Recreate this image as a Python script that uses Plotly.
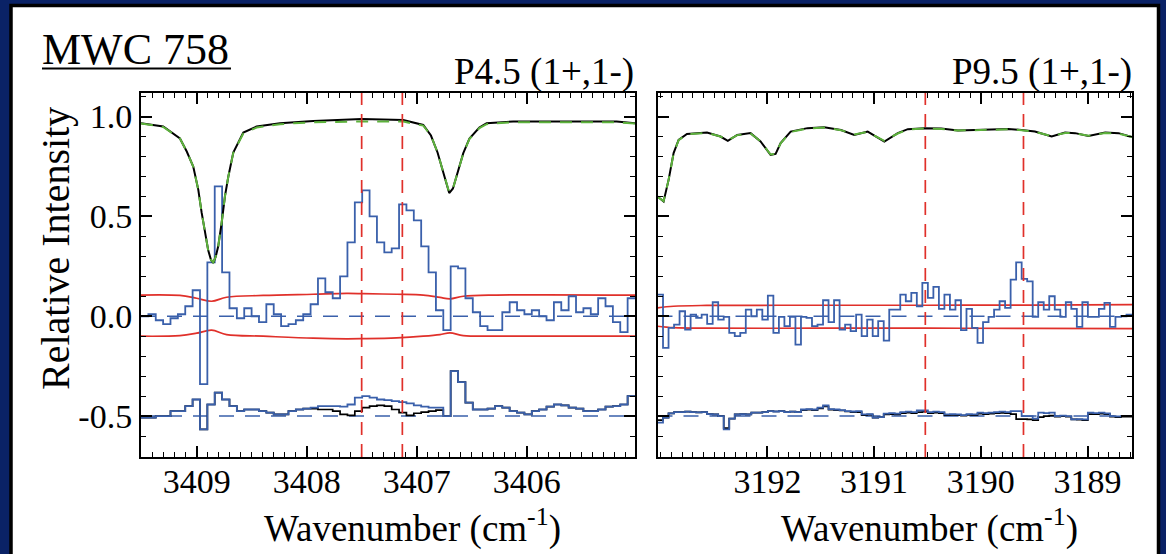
import numpy as np
import plotly.graph_objects as go

W, H = 1166, 554
FONT = "'Liberation Serif', 'Times New Roman', 'DejaVu Serif', serif"

# ---------------- Left panel: P4.5 (1+,1-) ----------------
left_wn = [3409.506, 3409.304, 3409.152, 3409.09, 3409.031, 3408.985, 3408.955, 3408.925,
           3408.895, 3408.87, 3408.849, 3408.826, 3408.804, 3408.773, 3408.743, 3408.712,
           3408.667, 3408.576, 3408.455, 3408.243, 3407.94, 3407.5, 3407.122, 3406.94,
           3406.87, 3406.81, 3406.75, 3406.704, 3406.67, 3406.62, 3406.576, 3406.52,
           3406.43, 3406.364, 3406.122, 3405.667, 3405.182, 3405.015]
left_obs = [0.967, 0.950, 0.890, 0.825, 0.750, 0.633, 0.520, 0.417,
            0.330, 0.283, 0.267, 0.300, 0.350, 0.467, 0.600, 0.700,
            0.820, 0.920, 0.950, 0.967, 0.978, 0.988, 0.983, 0.958,
            0.905, 0.820, 0.700, 0.617, 0.640, 0.730, 0.817, 0.890,
            0.945, 0.967, 0.975, 0.975, 0.975, 0.967]
left_model = [0.965, 0.948, 0.890, 0.825, 0.750, 0.633, 0.520, 0.417,
              0.330, 0.283, 0.270, 0.300, 0.350, 0.467, 0.600, 0.700,
              0.818, 0.915, 0.945, 0.962, 0.972, 0.975, 0.975, 0.955,
              0.905, 0.820, 0.700, 0.620, 0.640, 0.730, 0.815, 0.888,
              0.942, 0.962, 0.972, 0.972, 0.972, 0.965]

left_noise_wn = [3409.506, 3409.152, 3409.0, 3408.864, 3408.728, 3408.395, 3407.94, 3407.637,
                 3407.485, 3407.182, 3406.94, 3406.788, 3406.697, 3406.576, 3406.273, 3405.015]
left_noise_hi = [0.106, 0.104, 0.090, 0.075, 0.095, 0.104, 0.110, 0.114,
                 0.113, 0.110, 0.106, 0.094, 0.087, 0.100, 0.106, 0.106]
left_noise_lo = [-0.100, -0.097, -0.085, -0.070, -0.092, -0.100, -0.110, -0.113,
                 -0.112, -0.108, -0.100, -0.092, -0.083, -0.097, -0.100, -0.100]

left_bin_start = 3409.506
left_bin_step = 0.06703
left_resid = [0.00, 0.01, -0.02, -0.04, -0.01, 0.01, 0.05, 0.13, -0.34, 0.27,
              0.65, 0.22, 0.04, -0.01, 0.04, 0.00, -0.03, 0.06, 0.01, -0.05,
              -0.04, -0.02, 0.01, 0.06, 0.19, 0.12, 0.09, 0.20, 0.37, 0.57,
              0.63, 0.50, 0.37, 0.32, 0.34, 0.56, 0.53, 0.48, 0.35, 0.22,
              0.03, -0.07, 0.25, 0.24, 0.09, 0.02, -0.05, -0.07, -0.07, 0.02,
              0.07, 0.03, 0.01, 0.03, 0.00, -0.02, 0.07, 0.03, 0.10, 0.02,
              0.04, 0.01, 0.09, 0.05, -0.03, -0.08, 0.09]
left_low_blue = [-0.508, -0.508, -0.500, -0.500, -0.475, -0.475, -0.450, -0.417, -0.567, -0.442,
                 -0.383, -0.417, -0.450, -0.475, -0.467, -0.467, -0.475, -0.483, -0.492, -0.492,
                 -0.475, -0.467, -0.463, -0.458, -0.450, -0.450, -0.450, -0.453, -0.442, -0.408,
                 -0.400, -0.408, -0.417, -0.420, -0.425, -0.430, -0.436, -0.446, -0.453, -0.458,
                 -0.458, -0.500, -0.275, -0.330, -0.433, -0.467, -0.467, -0.463, -0.450, -0.458,
                 -0.475, -0.483, -0.492, -0.475, -0.467, -0.453, -0.442, -0.446, -0.458, -0.463,
                 -0.475, -0.475, -0.467, -0.453, -0.450, -0.442, -0.400]
left_low_black = [-0.508, -0.508, -0.500, -0.500, -0.475, -0.475, -0.450, -0.417, -0.567, -0.442,
                  -0.383, -0.417, -0.450, -0.475, -0.467, -0.467, -0.475, -0.483, -0.492, -0.492,
                  -0.475, -0.467, -0.463, -0.463, -0.467, -0.467, -0.475, -0.492, -0.497, -0.475,
                  -0.458, -0.450, -0.446, -0.450, -0.467, -0.483, -0.497, -0.486, -0.480, -0.475,
                  -0.470, -0.500, -0.275, -0.330, -0.433, -0.467, -0.467, -0.463, -0.450, -0.458,
                  -0.475, -0.483, -0.492, -0.475, -0.467, -0.453, -0.442, -0.446, -0.458, -0.463,
                  -0.475, -0.475, -0.467, -0.453, -0.450, -0.442, -0.400]
left_line_pos = [3407.50, 3407.13]

# ---------------- Right panel: P9.5 (1+,1-) ----------------
right_wn = [3193.030, 3192.973, 3192.926, 3192.879, 3192.832, 3192.754, 3192.566, 3192.440,
            3192.371, 3192.283, 3192.158, 3192.064, 3191.970, 3191.923, 3191.876, 3191.782,
            3191.625, 3191.468, 3191.311, 3191.186, 3191.060, 3190.904, 3190.778, 3190.684,
            3190.527, 3190.371, 3190.214, 3190.057, 3189.743, 3189.618, 3189.493, 3189.336,
            3189.210, 3189.116, 3188.991, 3188.834, 3188.709, 3188.583]
right_obs = [0.600, 0.575, 0.683, 0.817, 0.883, 0.913, 0.920, 0.900,
             0.878, 0.908, 0.917, 0.875, 0.808, 0.813, 0.867, 0.925,
             0.942, 0.947, 0.933, 0.908, 0.925, 0.875, 0.917, 0.937,
             0.942, 0.940, 0.930, 0.933, 0.938, 0.933, 0.925, 0.900,
             0.920, 0.917, 0.903, 0.920, 0.917, 0.897]
right_model = [0.598, 0.577, 0.683, 0.815, 0.882, 0.912, 0.918, 0.900,
               0.880, 0.907, 0.915, 0.876, 0.810, 0.813, 0.866, 0.923,
               0.940, 0.945, 0.932, 0.910, 0.923, 0.878, 0.915, 0.935,
               0.940, 0.938, 0.930, 0.932, 0.936, 0.932, 0.924, 0.902,
               0.918, 0.916, 0.904, 0.918, 0.915, 0.897]

right_noise_wn = [3193.030, 3192.88, 3192.57, 3191.5, 3190.5, 3189.5, 3188.583]
right_noise_hi = [0.042, 0.050, 0.054, 0.055, 0.055, 0.056, 0.058]
right_noise_lo = [-0.050, -0.057, -0.060, -0.060, -0.060, -0.061, -0.062]

right_bin_start = 3193.030
right_bin_step = 0.05171
right_resid = [0.108, -0.158, -0.058, -0.042, 0.025, -0.067, 0.008, -0.008, 0.008, -0.038,
               0.070, -0.017, -0.003, -0.083, -0.100, -0.083, 0.033, 0.000, 0.033, -0.017,
               0.103, -0.083, -0.003, -0.050, -0.003, -0.142, -0.003, -0.008, -0.050, -0.042,
               0.080, -0.030, 0.080, -0.067, -0.042, -0.075, 0.008, -0.100, -0.017, -0.100,
               -0.025, -0.122, 0.033, 0.033, 0.108, 0.075, 0.117, 0.050, 0.167, 0.092,
               0.147, 0.037, 0.108, 0.033, 0.080, -0.070, 0.037, -0.058, -0.133, -0.030,
               -0.003, 0.033, 0.075, 0.042, 0.183, 0.270, 0.187, 0.175, -0.003, 0.070,
               0.033, 0.100, 0.033, -0.003, 0.070, 0.037, -0.053, 0.070, -0.003, -0.003,
               0.037, 0.067, -0.053, -0.003, 0.000, 0.008]
right_low_blue = [-0.533, -0.508, -0.487, -0.480, -0.480, -0.478, -0.480, -0.482, -0.480, -0.490,
                  -0.492, -0.500, -0.567, -0.513, -0.492, -0.490, -0.492, -0.483, -0.483, -0.480,
                  -0.475, -0.477, -0.475, -0.480, -0.478, -0.480, -0.467, -0.465, -0.467, -0.458,
                  -0.447, -0.465, -0.467, -0.470, -0.475, -0.477, -0.475, -0.492, -0.490, -0.508,
                  -0.505, -0.488, -0.485, -0.488, -0.480, -0.478, -0.480, -0.472, -0.472, -0.480,
                  -0.478, -0.480, -0.492, -0.490, -0.492, -0.495, -0.490, -0.492, -0.483, -0.485,
                  -0.483, -0.480, -0.478, -0.480, -0.475, -0.475, -0.500, -0.500, -0.513, -0.483,
                  -0.485, -0.483, -0.500, -0.498, -0.500, -0.517, -0.515, -0.517, -0.483, -0.485,
                  -0.483, -0.487, -0.500, -0.502, -0.500, -0.500]
right_low_black = [-0.520, -0.508, -0.487, -0.480, -0.480, -0.478, -0.480, -0.482, -0.480, -0.490,
                   -0.492, -0.500, -0.560, -0.513, -0.492, -0.490, -0.492, -0.483, -0.483, -0.480,
                   -0.475, -0.477, -0.475, -0.480, -0.478, -0.480, -0.470, -0.468, -0.470, -0.462,
                   -0.452, -0.468, -0.470, -0.472, -0.477, -0.480, -0.480, -0.495, -0.493, -0.508,
                   -0.505, -0.492, -0.490, -0.492, -0.485, -0.483, -0.485, -0.480, -0.478, -0.485,
                   -0.483, -0.485, -0.495, -0.494, -0.495, -0.498, -0.494, -0.495, -0.488, -0.490,
                   -0.488, -0.486, -0.484, -0.486, -0.490, -0.515, -0.515, -0.517, -0.520, -0.505,
                   -0.500, -0.498, -0.503, -0.500, -0.503, -0.517, -0.518, -0.520, -0.490, -0.490,
                   -0.488, -0.490, -0.503, -0.505, -0.503, -0.503]
right_line_pos = [3190.52, 3189.60]

left_range = [3409.506, 3405.015]
right_range = [3193.030, 3188.583]
left_ticks = [3409, 3408, 3407, 3406]
right_ticks = [3192, 3191, 3190, 3189]
y_ticks = [-0.5, 0.0, 0.5, 1.0]
y_ticktext = ["-0.5", "0.0", "0.5", "1.0"]
y_range = [-0.705, 1.118]

BLUE = "#3a60ab"
RED = "#e0302a"
GREEN = "#5db23c"
NAVY = "#0a2266"


def step_xy(start, step, vals):
    edges = start - step * np.arange(len(vals) + 1)
    return edges, list(vals) + [vals[-1]]


fig = go.Figure()


def add_panel(xa, ya, wn, obs, model, nwn, nhi, nlo, bstart, bstep, resid, lblue, lblack, xr):
    fig.add_trace(go.Scatter(x=xr, y=[0, 0], mode="lines", xaxis=xa, yaxis=ya,
                             line=dict(color=BLUE, width=1.6, dash="15px,11px")))
    fig.add_trace(go.Scatter(x=xr, y=[-0.5, -0.5], mode="lines", xaxis=xa, yaxis=ya,
                             line=dict(color=BLUE, width=1.6, dash="15px,11px")))
    fig.add_trace(go.Scatter(x=nwn, y=nhi, mode="lines", xaxis=xa, yaxis=ya, line_shape="spline",
                             line=dict(color=RED, width=1.7)))
    fig.add_trace(go.Scatter(x=nwn, y=nlo, mode="lines", xaxis=xa, yaxis=ya, line_shape="spline",
                             line=dict(color=RED, width=1.7)))
    ex, ey = step_xy(bstart, bstep, resid)
    fig.add_trace(go.Scatter(x=ex, y=ey, mode="lines", xaxis=xa, yaxis=ya, line_shape="hv",
                             line=dict(color=BLUE, width=1.8)))
    ex, ey = step_xy(bstart, bstep, lblack)
    fig.add_trace(go.Scatter(x=ex, y=ey, mode="lines", xaxis=xa, yaxis=ya, line_shape="hv",
                             line=dict(color="black", width=1.7)))
    ex, ey = step_xy(bstart, bstep, lblue)
    fig.add_trace(go.Scatter(x=ex, y=ey, mode="lines", xaxis=xa, yaxis=ya, line_shape="hv",
                             line=dict(color=BLUE, width=1.8)))
    fig.add_trace(go.Scatter(x=wn, y=obs, mode="lines", xaxis=xa, yaxis=ya,
                             line=dict(color="black", width=2)))
    fig.add_trace(go.Scatter(x=wn, y=model, mode="lines", xaxis=xa, yaxis=ya,
                             line=dict(color=GREEN, width=2, dash="12px,9px")))


add_panel("x", "y", left_wn, left_obs, left_model, left_noise_wn, left_noise_hi, left_noise_lo,
          left_bin_start, left_bin_step, left_resid, left_low_blue, left_low_black, left_range)
add_panel("x2", "y2", right_wn, right_obs, right_model, right_noise_wn, right_noise_hi, right_noise_lo,
          right_bin_start, right_bin_step, right_resid, right_low_blue, right_low_black, right_range)

shapes = [
    dict(type="rect", xref="paper", yref="paper", x0=11 / W, x1=1158.5 / W, y0=-0.05, y1=1 - 5.5 / H,
         fillcolor="white", line=dict(color="black", width=3.5), layer="below"),
    dict(type="line", xref="paper", yref="paper", x0=42 / W, x1=231 / W, y0=1 - 68.5 / H, y1=1 - 68.5 / H,
         line=dict(color="black", width=2)),
]
for xv in left_line_pos:
    shapes.append(dict(type="line", xref="x", yref="y domain", x0=xv, x1=xv, y0=0, y1=1,
                       line=dict(color=RED, width=1.7, dash="13px,9px")))
for xv in right_line_pos:
    shapes.append(dict(type="line", xref="x2", yref="y2 domain", x0=xv, x1=xv, y0=0, y1=1,
                       line=dict(color=RED, width=1.7, dash="13px,9px")))

axis_common = dict(showgrid=False, zeroline=False, showline=True, linecolor="black", linewidth=2,
                   mirror="ticks", ticks="inside", ticklen=11, tickwidth=1.5, tickcolor="black",
                   tickfont=dict(family=FONT, size=34, color="black"))
minor = dict(ticks="inside", ticklen=5, tickwidth=1.2, tickcolor="black", tickmode="linear",
             tick0=0, dtick=0.1, showgrid=False)

ydom = [1 - 457 / H, 1 - 93 / H]
fig.update_layout(
    width=W, height=H,
    margin=dict(l=0, r=0, t=0, b=0),
    paper_bgcolor=NAVY, plot_bgcolor="rgba(0,0,0,0)",
    showlegend=False,
    shapes=shapes,
    xaxis=dict(domain=[141 / W, 635 / W], range=left_range, tickmode="array", tickvals=left_ticks,
               ticktext=[str(t) for t in left_ticks], anchor="y", minor=minor,
               ticklabelstandoff=-7, **axis_common),
    yaxis=dict(domain=ydom, range=y_range, tickmode="array", tickvals=y_ticks, ticktext=y_ticktext,
               anchor="x", minor=minor, **axis_common),
    xaxis2=dict(domain=[657.5 / W, 1132 / W], range=right_range, tickmode="array", tickvals=right_ticks,
                ticktext=[str(t) for t in right_ticks], anchor="y2", minor=minor,
                ticklabelstandoff=-7, **axis_common),
    yaxis2=dict(domain=ydom, range=y_range, tickmode="array", tickvals=y_ticks, ticktext=y_ticktext,
                anchor="x2", minor=minor, showticklabels=False,
                **{k: v for k, v in axis_common.items() if k != "tickfont"}),
)

ann_font = dict(family=FONT, color="black")
fig.add_annotation(text="MWC 758", xref="paper", yref="paper", x=40 / W, y=1 - 50 / H,
                   xanchor="left", yanchor="middle", showarrow=False, font=dict(size=44, **ann_font))
fig.add_annotation(text="P4.5 (1+,1-)", xref="paper", yref="paper", x=636 / W, y=1 - 72 / H,
                   xanchor="right", yanchor="middle", showarrow=False, font=dict(size=37, **ann_font))
fig.add_annotation(text="P9.5 (1+,1-)", xref="paper", yref="paper", x=1134 / W, y=1 - 72 / H,
                   xanchor="right", yanchor="middle", showarrow=False, font=dict(size=37, **ann_font))
fig.add_annotation(text="Wavenumber (cm<sup>-1</sup>)", xref="paper", yref="paper", x=412 / W, y=1 - 526 / H,
                   xanchor="center", yanchor="middle", showarrow=False, font=dict(size=37, **ann_font))
fig.add_annotation(text="Wavenumber (cm<sup>-1</sup>)", xref="paper", yref="paper", x=929 / W, y=1 - 526 / H,
                   xanchor="center", yanchor="middle", showarrow=False, font=dict(size=37, **ann_font))
fig.add_annotation(text="Relative Intensity", xref="paper", yref="paper", x=56 / W, y=1 - 249 / H,
                   xanchor="center", yanchor="middle", textangle=-90, showarrow=False,
                   font=dict(size=40, **ann_font))

fig.write_html("out.html")
